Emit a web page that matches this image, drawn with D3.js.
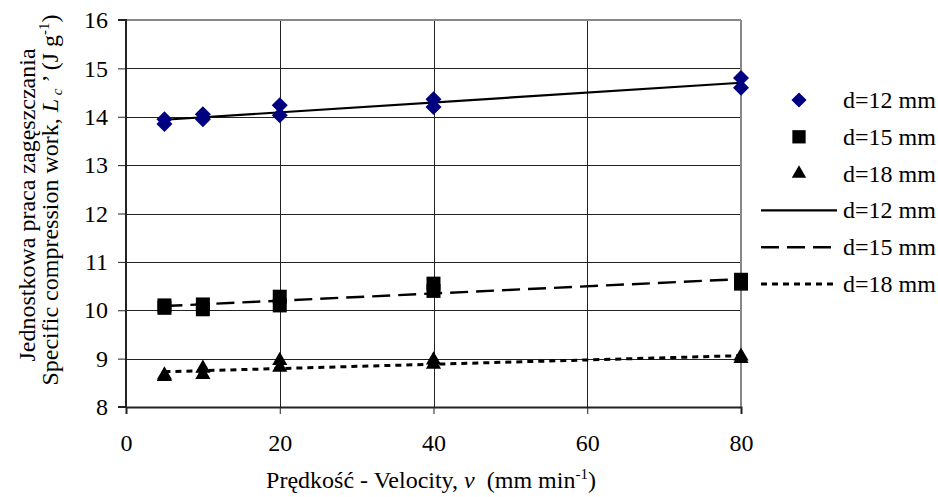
<!DOCTYPE html>
<html>
<head>
<meta charset="utf-8">
<script src="https://cdn.jsdelivr.net/npm/d3@7"></script>
<style>
  body { margin: 0; background: #fff; }
  text { font-family: "Liberation Serif", "Times New Roman", serif; fill: #000; }
</style>
</head>
<body>
<div id="chart"></div>
<script>
// measured values (two repeats per velocity)
const velocity = [5, 5, 10, 10, 20, 20, 40, 40, 80, 80];
const work12 = [13.85, 13.95, 13.95, 14.05, 14.03, 14.24, 14.2, 14.36, 14.6, 14.8];
const work15 = [10.05, 10.1, 10.02, 10.12, 10.1, 10.28, 10.4, 10.55, 10.55, 10.63];
const work18 = [8.63, 8.66, 8.67, 8.8, 8.82, 8.96, 8.88, 8.97, 9.0, 9.05];
const seriesNames = ['d=12 mm', 'd=15 mm', 'd=18 mm'];
const xTicks = [0, 20, 40, 60, 80];
const yTicks = [8, 9, 10, 11, 12, 13, 14, 15, 16];

const width = 938, height = 497;
const margin = { top: 20, left: 126, right: 197, bottom: 90 };
const chartWidth = width - margin.left - margin.right;
const chartHeight = height - margin.top - margin.bottom;
const fontSize = 24;

const svg = d3.select('#chart').append('svg')
  .attr('width', width)
  .attr('height', height);

const x = d3.scaleLinear().domain([0, 80]).range([0, chartWidth]);
const y = d3.scaleLinear().domain([8, 16]).range([chartHeight, 0]);

const g = svg.append('g')
  .attr('transform', 'translate(' + [margin.left, margin.top] + ')');

// gridlines
g.append('g').selectAll('line')
  .data(yTicks.filter(d => d > 8 && d < 16))
  .enter().append('line')
  .attr('x1', 0).attr('x2', chartWidth)
  .attr('y1', d => Math.round(y(d)) + 0.5).attr('y2', d => Math.round(y(d)) + 0.5)
  .attr('stroke', '#222').attr('stroke-width', 1);

g.append('g').selectAll('line')
  .data(xTicks.filter(d => d > 0 && d < 80))
  .enter().append('line')
  .attr('y1', 0).attr('y2', chartHeight)
  .attr('x1', d => Math.round(x(d)) + 0.5).attr('x2', d => Math.round(x(d)) + 0.5)
  .attr('stroke', '#222').attr('stroke-width', 1);

// top and right frame
g.append('line').attr('x1', 0).attr('x2', chartWidth).attr('y1', 0).attr('y2', 0)
  .attr('stroke', '#888').attr('stroke-width', 2);
g.append('line').attr('x1', chartWidth).attr('x2', chartWidth).attr('y1', 0).attr('y2', chartHeight)
  .attr('stroke', '#888').attr('stroke-width', 2);

// axes
const yAxis = g.append('g')
  .call(d3.axisLeft(y).tickValues(yTicks).tickSize(8).tickPadding(10).tickFormat(d3.format('d')));
const xAxis = g.append('g')
  .attr('transform', 'translate(0,' + chartHeight + ')')
  .call(d3.axisBottom(x).tickValues(xTicks).tickSize(7).tickPadding(20).tickFormat(d3.format('d')));

[xAxis, yAxis].forEach(a => {
  a.select('.domain').attr('stroke', '#222').attr('stroke-width', 2);
  a.selectAll('.tick line').attr('stroke', '#222');
  a.selectAll('text')
    .style('font-family', '"Liberation Serif", "Times New Roman", serif')
    .style('font-size', fontSize + 'px')
    .attr('fill', '#000');
});
yAxis.select('.domain').attr('d', 'M-8,' + chartHeight + 'H0V0H-8');

// linear trend (least squares, as the spreadsheet trendline)
function fit(xs, ys) {
  const mx = d3.mean(xs), my = d3.mean(ys);
  const sxy = d3.sum(xs, (v, i) => (v - mx) * (ys[i] - my));
  const sxx = d3.sum(xs, v => (v - mx) * (v - mx));
  const b = sxy / sxx;
  return v => my + b * (v - mx);
}

const series = [
  { name: seriesNames[0], values: work12, symbol: d3.symbolSquare, size: 128, rotate: 45, fill: '#000080', dash: null, lw: 2.2 },
  { name: seriesNames[1], values: work15, symbol: d3.symbolSquare, size: 196, rotate: 0, fill: '#000', dash: '18,8', lw: 2.4 },
  { name: seriesNames[2], values: work18, symbol: d3.symbolTriangle, size: 100, rotate: 0, fill: '#000', dash: '6,5', lw: 3 }
];

const xMin = d3.min(velocity), xMax = d3.max(velocity);
series.forEach(s => {
  const f = fit(velocity, s.values);
  g.append('line')
    .attr('x1', x(xMin)).attr('y1', y(f(xMin)))
    .attr('x2', x(xMax)).attr('y2', y(f(xMax)))
    .attr('stroke', '#000').attr('stroke-width', s.lw)
    .attr('stroke-dasharray', s.dash);
});

series.forEach(s => {
  g.append('g').selectAll('path')
    .data(s.values)
    .enter().append('path')
    .attr('d', d3.symbol(s.symbol, s.size))
    .attr('transform', (d, i) => 'translate(' + [x(velocity[i]), y(d)] + ') rotate(' + s.rotate + ')')
    .attr('fill', s.fill);
});

// legend
const legend = svg.append('g').attr('transform', 'translate(761,100)');
const rowH = 36.8;
series.forEach((s, i) => {
  legend.append('path')
    .attr('d', d3.symbol(s.symbol, s.size * 0.9))
    .attr('transform', 'translate(' + [38, i * rowH] + ') rotate(' + s.rotate + ')')
    .attr('fill', s.fill);
  legend.append('text').attr('x', 82).attr('y', i * rowH + 8)
    .style('font-size', fontSize + 'px').text(s.name);
});
series.forEach((s, i) => {
  const yy = (i + 3) * rowH;
  legend.append('line')
    .attr('x1', 0).attr('x2', 76).attr('y1', yy).attr('y2', yy)
    .attr('stroke', '#000').attr('stroke-width', s.lw)
    .attr('stroke-dasharray', s.dash);
  legend.append('text').attr('x', 82).attr('y', yy + 8)
    .style('font-size', fontSize + 'px').text(s.name);
});

// x title
const xt = svg.append('text')
  .attr('x', 431).attr('y', 488)
  .attr('text-anchor', 'middle')
  .style('font-size', fontSize + 'px');
xt.append('tspan').text('Prędkość - Velocity, ');
xt.append('tspan').style('font-style', 'italic').text('v');
xt.append('tspan').text('\u00a0 (mm min');
xt.append('tspan').attr('dy', -9).style('font-size', '15px').text('-1');
xt.append('tspan').attr('dy', 9).text(')');

// y title
const yt = svg.append('g').attr('transform', 'translate(0,' + 205 + ') rotate(-90)');
yt.append('text').attr('x', 0).attr('y', 35)
  .attr('text-anchor', 'middle')
  .style('font-size', fontSize + 'px')
  .text('Jednostkowa praca zagęszczania');
const yt2 = yt.append('text').attr('x', 5).attr('y', 58)
  .attr('text-anchor', 'middle')
  .style('font-size', fontSize + 'px');
yt2.append('tspan').text('Specific compression work, ');
yt2.append('tspan').style('font-style', 'italic').text('L');
yt2.append('tspan').attr('dy', 4).style('font-style', 'italic').style('font-size', '15px').text(' c');
yt2.append('tspan').attr('dy', -4).text(' \u2019 (J g');
yt2.append('tspan').attr('dy', -9).style('font-size', '15px').text('-1');
yt2.append('tspan').attr('dy', 9).text(')');
</script>
</body>
</html>
